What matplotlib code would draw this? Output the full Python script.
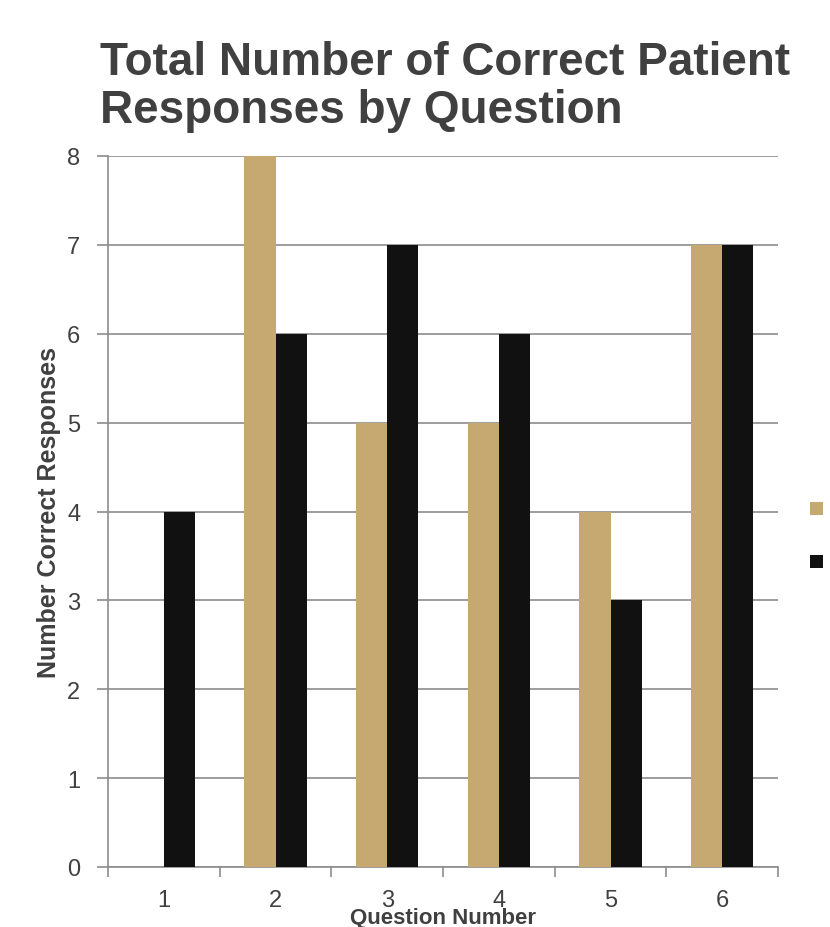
import matplotlib
matplotlib.use("Agg")
import matplotlib.pyplot as plt
import numpy as np

plt.rcParams['font.family'] = ['Liberation Sans', 'DejaVu Sans']

questions = ["1", "2", "3", "4", "5", "6"]
series_names = ["Pre-test", "Post-test"]
series_a = [0, 8, 5, 5, 4, 7]
series_b = [4, 6, 7, 6, 3, 7]
colors = ["#C6A971", "#111111"]

fig = plt.figure(figsize=(8.30, 9.28), dpi=100)
ax = fig.add_axes([108/830, 60/928, 670/830, 711/928])

x = np.arange(1, len(questions) + 1)
w = 0.28
ax.bar(x - w/2, series_a, width=w, color=colors[0], label=series_names[0], zorder=3)
ax.bar(x + w/2, series_b, width=w, color=colors[1], label=series_names[1], zorder=3)

ax.set_xlim(0.5, 6.5)
ax.set_ylim(0, 8)
ax.set_yticks(range(0, 9))
ax.yaxis.grid(True, color="#8c8c8c", linewidth=1.2, zorder=0)
ax.set_axisbelow(True)

ax.set_xticks(x)
ax.set_xticklabels(questions)
ax.set_xticks(np.arange(0.5, 7.0, 1.0), minor=True)
ax.tick_params(axis='x', which='major', length=0, pad=16, labelsize=17, labelcolor="#404040")
ax.tick_params(axis='x', which='minor', length=7, color="#8c8c8c", width=1.2)
ax.tick_params(axis='y', length=8, color="#8c8c8c", width=1.2, pad=12, labelsize=17, labelcolor="#404040")

for s in ['top', 'right']:
    ax.spines[s].set_visible(False)
for s in ['left', 'bottom']:
    ax.spines[s].set_color("#8c8c8c")
    ax.spines[s].set_linewidth(1.2)

ax.set_ylabel("Number Correct Responses", fontsize=18, fontweight='bold', color="#404040", labelpad=4)
ax.set_xlabel("Question Number", fontsize=16, fontweight='bold', color="#404040", labelpad=-3)

fig.text(100/830, 1 - 41/928, "Total Number of Correct Patient\nResponses by Question",
         fontsize=33, fontweight='bold', color="#404040", ha='left', va='top', linespacing=1.12)

ax.legend(loc='center left', bbox_to_anchor=(1.021, 0.464), frameon=False, fontsize=14,
          handlelength=0.67, handleheight=0.67, labelspacing=1.8, handletextpad=0.3)

fig.savefig("out.png", dpi=100)
